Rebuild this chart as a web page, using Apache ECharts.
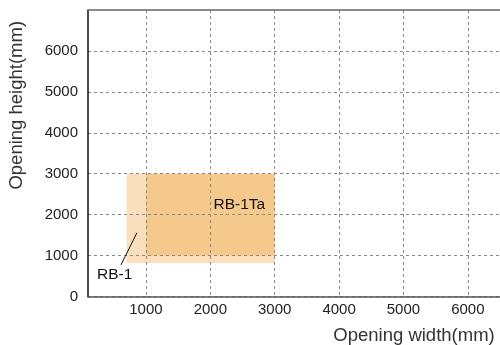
<!DOCTYPE html>
<html>
<head>
<meta charset="utf-8">
<script src="https://cdn.jsdelivr.net/npm/echarts@6/dist/echarts.min.js"></script>
<style>html,body{margin:0;padding:0;background:#fff}#c{width:500px;height:345px}</style>
</head>
<body>
<div id="c"></div>
<script>
// ---- data ----
const rectNames = ['RB-1', 'RB-1Ta'];
const rectXStart = [700, 1000];
const rectXEnd = [3000, 3000];
const rectYStart = [820, 1000];
const rectYEnd = [3000, 3000];
const xTicks = [1000, 2000, 3000, 4000, 5000, 6000];
const yTicks = [0, 1000, 2000, 3000, 4000, 5000, 6000];
const leaderX = [612, 860];
const leaderY = [772, 1556];

const rectColors = ['#fadfbd', '#f4c98b'];
const labelAnchors = [[240, 520], [2050, 2240]];
const FONT = 'Liberation Sans, Arial, sans-serif';

const chart = echarts.init(document.getElementById('c'), null, {renderer: 'canvas'});
const rectData = rectNames.map((n, i) => [rectXStart[i], rectYStart[i], rectXEnd[i], rectYEnd[i], i]);
const labelData = rectNames.map((n, i) => [labelAnchors[i][0], labelAnchors[i][1], i]);
const plain = v => String(v);

chart.setOption({
  animation: false,
  grid: {left: 88, right: 0, top: 10, bottom: 48.5, containLabel: false, outerBoundsMode: 'none'},
  xAxis: [{
    type: 'value', min: 100, max: 6500,
    name: 'Opening width(mm)', nameLocation: 'middle', nameGap: 29,
    nameTextStyle: {fontFamily: FONT, fontSize: 18.5, color: '#333', verticalAlign: 'top', lineHeight: 20, padding: [0, 0, 0, 240]},
    axisLine: {show: true, onZero: false, lineStyle: {color: '#555', width: 1.5}},
    axisTick: {show: false, customValues: xTicks},
    axisLabel: {customValues: xTicks, formatter: plain, fontFamily: FONT, fontSize: 15, color: '#222', margin: 6},
    splitLine: {show: true, lineStyle: {color: '#888', type: [3, 3], width: 1}}
  }, {
    type: 'value', min: 100, max: 6500, position: 'top',
    axisLine: {show: true, onZero: false, lineStyle: {color: '#666', width: 1.5}},
    axisTick: {show: false}, axisLabel: {show: false}, splitLine: {show: false}
  }],
  yAxis: {
    type: 'value', min: 0, max: 7000,
    name: 'Opening height(mm)', nameLocation: 'middle', nameGap: 62,
    nameTextStyle: {fontFamily: FONT, fontSize: 18.5, color: '#333', padding: [0, 0, 0, 96]},
    axisLine: {show: true, onZero: false, lineStyle: {color: '#111', width: 1.5}},
    axisTick: {show: false, customValues: yTicks},
    axisLabel: {customValues: yTicks, formatter: plain, fontFamily: FONT, fontSize: 15, color: '#222', margin: 10},
    splitLine: {show: true, lineStyle: {color: '#888', type: [3, 3], width: 1}}
  },
  series: [{
    type: 'custom', z: -1,
    data: rectData,
    renderItem: function (params, api) {
      const p0 = api.coord([api.value(0), api.value(3)]);
      const p1 = api.coord([api.value(2), api.value(1)]);
      return {type: 'rect', shape: {x: p0[0], y: p0[1], width: p1[0] - p0[0], height: p1[1] - p0[1]},
        style: {fill: rectColors[api.value(4)]}};
    }
  }, {
    type: 'line', z: 5, symbol: 'none',
    data: leaderX.map((x, i) => [x, leaderY[i]]),
    lineStyle: {color: '#111', width: 1}
  }, {
    type: 'custom', z: 6,
    data: labelData,
    renderItem: function (params, api) {
      const p = api.coord([api.value(0), api.value(1)]);
      return {type: 'text', x: p[0], y: p[1],
        style: {text: rectNames[api.value(2)], fill: '#111', font: '15.5px ' + FONT, align: 'left', verticalAlign: 'middle'}};
    }
  }]
});
</script>
</body>
</html>
